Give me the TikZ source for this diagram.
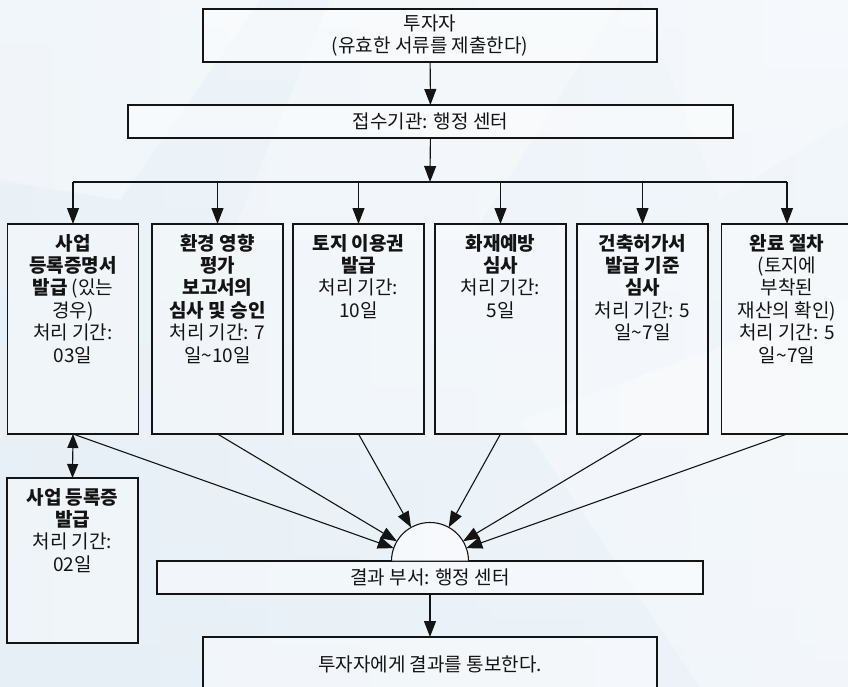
\documentclass[tikz,border=0pt]{standalone}
\usepackage{fontspec}
\setmainfont{Noto Sans CJK KR}
\usetikzlibrary{arrows.meta}
\definecolor{bgL}{RGB}{230,239,246}
\definecolor{bgR}{RGB}{243,247,251}
\definecolor{ink}{RGB}{20,20,20}
\newcommand{\coltext}[2]{\parbox[t][#1][t]{126pt}{\fontsize{19}{22.4}\selectfont\centering #2}}
\tikzset{
  plainbox/.style={draw=ink, line width=1.2pt, fill=white, fill opacity=0.45, text opacity=1, inner sep=0pt, outer sep=0pt,
                   font=\fontsize{19}{22}\selectfont, align=center, text=ink},
  colbox/.style={draw=ink, line width=1.2pt, fill=white, fill opacity=0.35, text opacity=1, inner xsep=2.5pt, inner ysep=10pt,
                 outer sep=0pt, anchor=north, text=ink},
  conn/.style={draw=ink, line width=1.1pt},
  arr/.style={conn, -{Triangle[length=16pt, width=12pt]}},
  darr/.style={conn, {Triangle[length=14pt, width=11pt]}-{Triangle[length=14pt, width=11pt]}}
}
\begin{document}
\begin{tikzpicture}[x=1pt, y=-1pt]
\useasboundingbox (0,0) rectangle (848,687);
% background
\shade[top color=bgR, bottom color=bgL] (0,0) rectangle (848,687);
\shade[left color=bgL, right color=bgR, opacity=0.6] (0,0) rectangle (848,687);
\fill[white, opacity=0.35] (0,0) -- (260,0) -- (120,200) -- (0,180) -- cycle;
\fill[white, opacity=0.30] (330,0) -- (620,0) -- (470,240) -- (230,240) -- cycle;
\fill[white, opacity=0.25] (640,0) -- (848,0) -- (848,120) -- (720,200) -- cycle;
\fill[white, opacity=0.30] (520,420) -- (848,300) -- (848,687) -- (700,687) -- cycle;

% top boxes
\node[plainbox, minimum width=454pt, minimum height=53pt] (inv) at (430,35.5) {투자자\\(유효한 서류를 제출한다)};
\node[plainbox, minimum width=605pt, minimum height=33pt] (recv) at (430.5,121.5) {접수기관: 행정 센터};
\coordinate (split) at (430,182);

% column boxes
\node[colbox] (b1) at (73,224) {\coltext{190pt}{\textbf{사업}\\\textbf{등록증명서}\\\textbf{발급} (있는\\경우)\\처리 기간:\\03일}};
\node[colbox] (b2) at (217.5,224) {\coltext{190pt}{\textbf{환경 영향}\\\textbf{평가}\\\textbf{보고서의}\\\textbf{심사 및 승인}\\처리 기간: 7\\일\textasciitilde10일}};
\node[colbox] (b3) at (358.5,224) {\coltext{190pt}{\textbf{토지 이용권}\\\textbf{발급}\\처리 기간:\\10일}};
\node[colbox] (b4) at (500.5,224) {\coltext{190pt}{\textbf{화재예방}\\\textbf{심사}\\처리 기간:\\5일}};
\node[colbox] (b5) at (642.5,224) {\coltext{190pt}{\textbf{건축허가서}\\\textbf{발급 기준}\\\textbf{심사}\\처리 기간: 5\\일\textasciitilde7일}};
\node[colbox] (b6) at (787,224) {\coltext{190pt}{\textbf{완료 절차}\\(토지에\\부착된\\재산의 확인)\\처리 기간: 5\\일\textasciitilde7일}};
\node[colbox] (b7) at (72.5,478) {\coltext{145pt}{\textbf{사업 등록증}\\\textbf{발급}\\처리 기간:\\02일}};

% hub, result, final
\node[circle, minimum size=77pt, inner sep=0pt, outer sep=0pt] (hub) at (430,561) {};
\node[plainbox, minimum width=546pt, minimum height=33pt] (res) at (430,577.5) {결과 부서: 행정 센터};
\node[plainbox, minimum width=454pt, minimum height=55pt] (fin) at (430,664.5) {투자자에게 결과를 통보한다.};
\draw[conn, fill=white, fill opacity=0.6] (hub.west) arc[start angle=180, end angle=0, radius=38.5pt];

% connectors
\draw[arr] (inv) -- (recv);
\draw[arr] (recv) -- (split);
\draw[conn] (b1.north |- split) -- (b6.north |- split);
\foreach \b in {b1,b2,b3,b4,b5,b6} {
  \draw[arr] (\b.north |- split) -- (\b.north);
}
\draw[darr] (b1.south) -- (b7.north);
\foreach \b in {b1,b2,b3,b4,b5,b6} {
  \draw[arr] (\b.south) -- (hub);
}
\draw[arr] (res) -- (fin);
\end{tikzpicture}
\end{document}
